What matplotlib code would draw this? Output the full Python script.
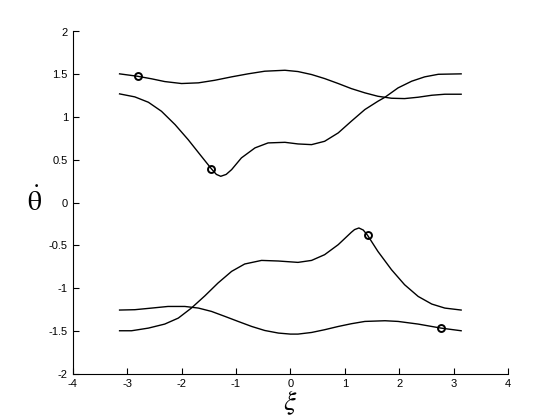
import matplotlib.pyplot as plt

plt.rcParams["mathtext.fontset"] = "stix"
plt.rcParams["axes.unicode_minus"] = False
plt.rcParams["font.family"] = "Liberation Sans"

# curves (xi from -pi to pi)
xi_a = [-3.14, -2.81, -2.55, -2.31, -2.00, -1.69, -1.39, -1.08, -0.78, -0.47, -0.10, 0.14, 0.39, 0.63,
        0.88, 1.12, 1.37, 1.61, 1.86, 2.10, 2.35, 2.60, 2.84, 3.14]
th_a = [1.505, 1.477, 1.447, 1.415, 1.392, 1.40, 1.43, 1.47, 1.505, 1.536, 1.547, 1.532, 1.497, 1.45,
        1.392, 1.333, 1.283, 1.243, 1.22, 1.216, 1.232, 1.255, 1.267, 1.267]

xi_b = [-3.14, -2.86, -2.61, -2.37, -2.12, -1.88, -1.66, -1.45, -1.36, -1.28, -1.18, -1.08, -0.90, -0.65,
        -0.41, -0.10, 0.14, 0.39, 0.63, 0.88, 1.12, 1.37, 1.61, 1.74, 1.98, 2.23, 2.47, 2.72, 3.14]
th_b = [1.271, 1.236, 1.173, 1.068, 0.912, 0.737, 0.561, 0.394, 0.33, 0.308, 0.33, 0.386, 0.523, 0.64,
        0.698, 0.705, 0.686, 0.678, 0.717, 0.815, 0.951, 1.088, 1.185, 1.232, 1.341, 1.419, 1.47, 1.50,
        1.505]

xi_c = [-3.14, -2.92, -2.61, -2.31, -2.06, -1.82, -1.57, -1.33, -1.08, -0.84, -0.53, -0.22, 0.14, 0.39,
        0.63, 0.88, 1.12, 1.18, 1.26, 1.34, 1.42, 1.61, 1.86, 2.10, 2.35, 2.60, 2.84, 3.14]
th_c = [-1.497, -1.497, -1.466, -1.419, -1.349, -1.232, -1.088, -0.939, -0.803, -0.717, -0.675, -0.682,
        -0.698, -0.675, -0.608, -0.491, -0.347, -0.315, -0.296, -0.32, -0.382, -0.57, -0.784, -0.959,
        -1.096, -1.185, -1.232, -1.255]

xi_d = [-3.14, -2.86, -2.55, -2.25, -1.94, -1.69, -1.45, -1.20, -0.96, -0.71, -0.47, -0.22, 0.0, 0.14,
        0.39, 0.63, 0.88, 1.12, 1.37, 1.74, 1.98, 2.35, 2.60, 2.77, 3.14]
th_d = [-1.255, -1.251, -1.232, -1.213, -1.213, -1.232, -1.271, -1.33, -1.388, -1.447, -1.494, -1.524,
        -1.536, -1.536, -1.517, -1.485, -1.447, -1.415, -1.388, -1.38, -1.388, -1.419, -1.447, -1.466,
        -1.497]

# circled points
mark_xi = [-2.81, -1.45, 1.42, 2.77]
mark_th = [1.477, 0.394, -0.382, -1.466]

xticks = [-4, -3, -2, -1, 0, 1, 2, 3, 4]
yticks = [-2, -1.5, -1, -0.5, 0, 0.5, 1, 1.5, 2]
ytick_labels = ["-2", "-1.5", "-1", "-0.5", "0", "0.5", "1", "1.5", "2"]

fig = plt.figure(figsize=(5.6, 4.2), dpi=100)
ax = fig.add_axes([0.13, 0.11, 0.777, 0.815])

for x, y in [(xi_a, th_a), (xi_b, th_b), (xi_c, th_c), (xi_d, th_d)]:
    ax.plot(x, y, color="black", lw=1.0)

ax.plot(mark_xi, mark_th, "o", mfc="none", mec="black", ms=5, mew=1.4)

ax.set_xlim(-4, 4)
ax.set_ylim(-2, 2)
ax.set_xticks(xticks)
ax.set_yticks(yticks)
ax.set_yticklabels(ytick_labels)
ax.spines["top"].set_visible(False)
ax.spines["right"].set_visible(False)
ax.tick_params(direction="in", length=4, labelsize=8, width=0.8)

ax.set_ylabel(r"$\dot{\mathrm{\theta}}$", fontsize=20, rotation=0, labelpad=10, va="center")
ax.set_xlabel(r"$\xi$", fontsize=20, labelpad=0)

fig.savefig("out.png", dpi=100)
